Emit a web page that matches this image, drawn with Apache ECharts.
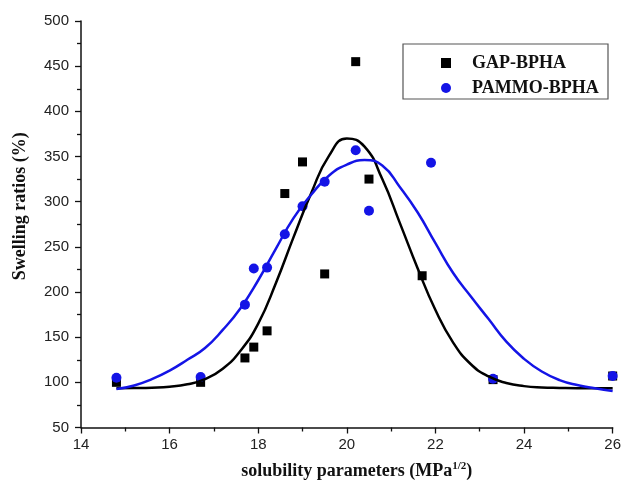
<!DOCTYPE html>
<html>
<head>
<meta charset="utf-8">
<script src="https://cdn.jsdelivr.net/npm/echarts@6/dist/echarts.min.js"></script>
<style>html,body{margin:0;padding:0;background:#fff;}#c{width:624px;height:487px;}</style>
</head>
<body>
<div id="c"></div>
<script>
// Measured points
var gapX = [14.8, 16.7, 17.7, 17.9, 18.2, 18.6, 19.0, 19.5, 20.2, 20.5, 21.7, 23.3, 26.0];
var gapY = [100, 100, 127, 139, 157, 309, 344, 220, 455, 325, 218, 103, 107];
var pammoX = [14.8, 16.7, 17.7, 17.9, 18.2, 18.6, 19.0, 19.5, 20.2, 20.5, 21.9, 23.3, 26.0];
var pammoY = [105, 106, 186, 226, 227, 264, 295, 322, 357, 290, 343, 104, 107];
// Fitted curves, every 0.4 units
var fitX = [14.8, 15.2, 15.6, 16.0, 16.4, 16.8, 17.2, 17.6, 18.0, 18.4, 18.8, 19.2, 19.6, 20.0, 20.4, 20.8, 21.2, 21.6, 22.0, 22.4, 22.8, 23.2, 23.6, 24.0, 24.4, 24.8, 25.2, 25.6, 26.0];
var gapFitY = [93.5, 93.7, 94.1, 95.1, 97.8, 103.6, 115, 135, 165, 210, 261, 310, 351, 370, 361, 325, 276, 226, 180, 144, 120, 106.5, 99.3, 95.8, 94.3, 93.8, 93.5, 93.5, 93.5];
var pammoFitY = [92.5, 96.5, 103.5, 113, 125, 138, 158, 182, 213, 248, 282, 308, 329, 341, 346, 340, 316, 288, 254, 221, 195, 170, 145, 126, 112, 102.5, 97, 93.5, 90.5];
var xTicks = [14, 16, 18, 20, 22, 24, 26];
var yTicks = [50, 100, 150, 200, 250, 300, 350, 400, 450, 500];

function pairs(xs, ys) { return xs.map(function (x, i) { return [x, ys[i]]; }); }

var chart = echarts.init(document.getElementById('c'), null, {renderer: 'canvas'});
var serif = '"Liberation Serif", "Times New Roman", serif';
var sans = '"Liberation Sans", Arial, sans-serif';
var blue = '#1414e6';
chart.setOption({
  animation: false,
  backgroundColor: '#fff',
  grid: {left: 81, right: 8, top: 21, bottom: 58, containLabel: false},
  graphic: [{
    type: 'rect', z: 0,
    shape: {x: 403, y: 44, width: 205, height: 55},
    style: {fill: '#fff', stroke: '#555', lineWidth: 1.2}
  }],
  legend: {
    left: 441, top: 54, orient: 'vertical',
    itemWidth: 10, itemHeight: 10, itemGap: 7, padding: 0,
    data: ['GAP-BPHA', 'PAMMO-BPHA'],
    textStyle: {fontFamily: serif, fontWeight: 'bold', fontSize: 18, color: '#111', padding: [0, 0, 0, 16]}
  },
  xAxis: {
    type: 'value', min: xTicks[0], max: xTicks[xTicks.length - 1], interval: 2,
    name: '{a|solubility parameters (MPa}{b|1/2}{a|)}',
    nameLocation: 'middle', nameGap: 33,
    nameTextStyle: {
      padding: [0, 0, 0, 20],
      rich: {
        a: {fontFamily: serif, fontWeight: 'bold', fontSize: 18, color: '#111', lineHeight: 22},
        b: {fontFamily: serif, fontWeight: 'bold', fontSize: 11, color: '#111', lineHeight: 22, padding: [0, 0, 10, 0]}
      }
    },
    axisLine: {show: true, lineStyle: {color: '#111', width: 1.5}},
    axisTick: {show: true, inside: false, length: 6, lineStyle: {color: '#111', width: 1.3}},
    minorTick: {show: true, splitNumber: 2, length: 4, lineStyle: {color: '#111', width: 1.3}},
    splitLine: {show: false},
    axisLabel: {fontFamily: sans, fontSize: 15, color: '#222', margin: 10}
  },
  yAxis: {
    type: 'value', min: yTicks[0], max: yTicks[yTicks.length - 1], interval: 50,
    name: 'Swelling ratios (%)',
    nameLocation: 'middle', nameGap: 52, nameRotate: 90,
    nameTextStyle: {fontFamily: serif, fontWeight: 'bold', fontSize: 18, color: '#111', padding: [0, 0, 0, 36]},
    axisLine: {show: true, lineStyle: {color: '#111', width: 1.5}},
    axisTick: {show: true, inside: false, length: 6, lineStyle: {color: '#111', width: 1.3}},
    minorTick: {show: true, splitNumber: 2, length: 4, lineStyle: {color: '#111', width: 1.3}},
    splitLine: {show: false},
    axisLabel: {fontFamily: sans, fontSize: 15, color: '#222', margin: 12}
  },
  series: [
    {name: 'GAP fit', type: 'line', data: pairs(fitX, gapFitY), symbol: 'none', smooth: 0.5,
     lineStyle: {color: '#000', width: 2.5}, silent: true},
    {name: 'PAMMO fit', type: 'line', data: pairs(fitX, pammoFitY), symbol: 'none', smooth: 0.5,
     lineStyle: {color: blue, width: 2.5}, silent: true},
    {name: 'GAP-BPHA', type: 'scatter', data: pairs(gapX, gapY), symbol: 'rect', symbolSize: 9,
     itemStyle: {color: '#000', opacity: 1}},
    {name: 'PAMMO-BPHA', type: 'scatter', data: pairs(pammoX, pammoY), symbol: 'circle', symbolSize: 10,
     itemStyle: {color: blue, opacity: 1}}
  ]
});
</script>
</body>
</html>
